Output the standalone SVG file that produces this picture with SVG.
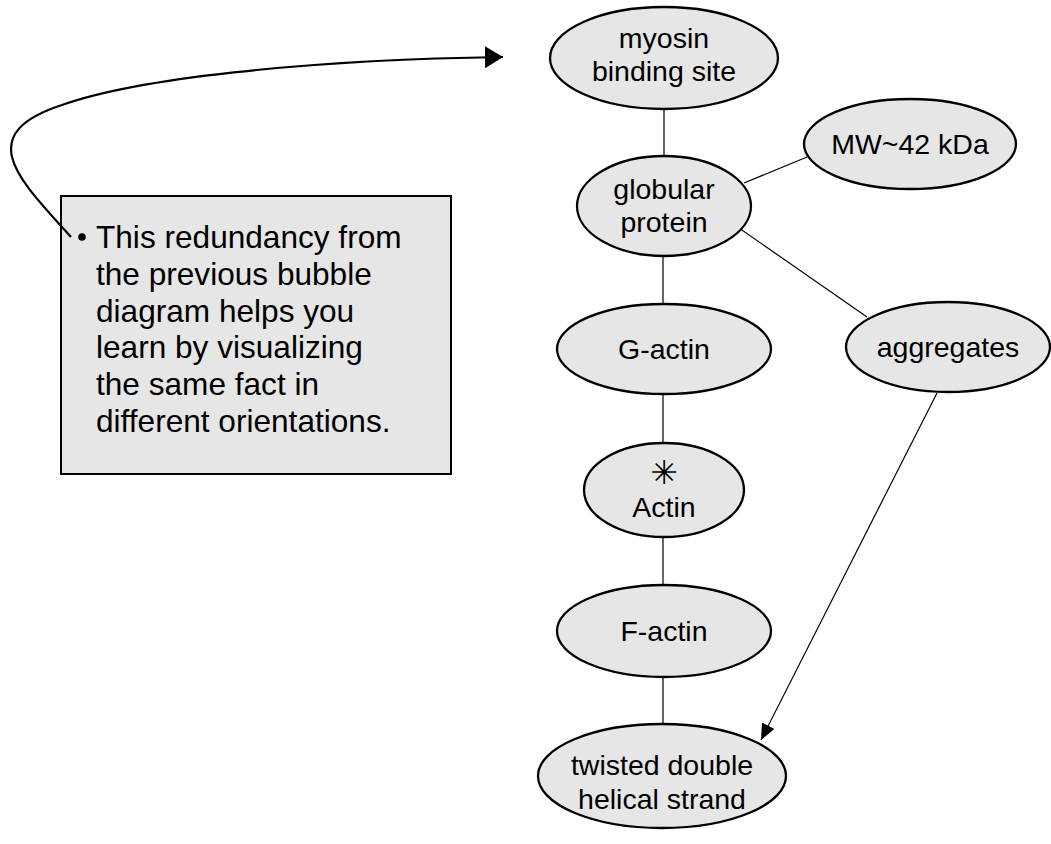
<svg xmlns="http://www.w3.org/2000/svg" width="1051" height="844" viewBox="0 0 1051 844">
<defs>
<style>
.node{fill:#e6e6e6;stroke:#000;stroke-width:2.3}
.t{font-family:"Liberation Sans",Arial,sans-serif;font-size:28.5px;fill:#000;text-anchor:middle}
.bt{font-family:"Liberation Sans",Arial,sans-serif;font-size:31.6px;fill:#000}
.ln{stroke:#000;stroke-width:1.2;fill:none}
</style>
<marker id="ah1" markerUnits="userSpaceOnUse" markerWidth="20" markerHeight="22" refX="18" refY="11" orient="auto" viewBox="0 0 20 22">
<path d="M0,0 L18,11 L0,22 Z" fill="#000"/>
</marker>
<marker id="ah2" markerUnits="userSpaceOnUse" markerWidth="16" markerHeight="14" refX="16" refY="7" orient="auto" viewBox="0 0 16 14">
<path d="M0,0 L16,7 L0,14 Z" fill="#000"/>
</marker>
</defs>
<rect width="1051" height="844" fill="#fff"/>
<g id="note">
<rect x="61" y="196" width="390" height="278" fill="#e6e6e6" stroke="#000" stroke-width="2"/>
<circle cx="82" cy="237" r="3.8" fill="#000"/>
<text class="bt" x="96" y="248">This redundancy from</text>
<text class="bt" x="96" y="285">the previous bubble</text>
<text class="bt" x="96" y="322">diagram helps you</text>
<text class="bt" x="96" y="358">learn by visualizing</text>
<text class="bt" x="96" y="395">the same fact in</text>
<text class="bt" x="96" y="432">different orientations.</text>
</g>
<g id="connectors">
<line class="ln" x1="664" y1="110" x2="664" y2="156"/>
<line class="ln" x1="744" y1="183" x2="807" y2="157"/>
<line class="ln" x1="739" y1="228" x2="867" y2="317"/>
<line class="ln" x1="663" y1="256" x2="663" y2="304"/>
<line class="ln" x1="663" y1="394" x2="663" y2="444"/>
<line class="ln" x1="663" y1="537" x2="663" y2="586"/>
<line class="ln" x1="663" y1="677" x2="663" y2="724"/>
<line class="ln" x1="937" y1="393" x2="761" y2="740" marker-end="url(#ah2)"/>
<path d="M71,237 C21,181 -30,135 62,105 C135,79 300,60 503,57" fill="none" stroke="#000" stroke-width="2.2" marker-end="url(#ah1)"/>
</g>
<g id="myosin">
<ellipse class="node" cx="664" cy="58" rx="114" ry="51"/>
<text class="t" x="664" y="48">myosin</text>
<text class="t" x="664" y="81">binding site</text>
</g>
<g id="globular">
<ellipse class="node" cx="664" cy="206" rx="87" ry="50"/>
<text class="t" x="664" y="199">globular</text>
<text class="t" x="664" y="232">protein</text>
</g>
<g id="mw">
<ellipse class="node" cx="910" cy="144" rx="106" ry="45"/>
<text class="t" x="910" y="154">MW~42 kDa</text>
</g>
<g id="gactin">
<ellipse class="node" cx="664" cy="349" rx="107" ry="45"/>
<text class="t" x="664" y="359">G-actin</text>
</g>
<g id="aggregates">
<ellipse class="node" cx="948" cy="347" rx="102" ry="45"/>
<text class="t" x="948" y="357">aggregates</text>
</g>
<g id="actin">
<ellipse class="node" cx="664" cy="490" rx="80" ry="47"/>
<text class="t" x="664" y="484" style="font-family:'DejaVu Sans',sans-serif;font-size:33px">✳</text>
<text class="t" x="664" y="517">Actin</text>
</g>
<g id="factin">
<ellipse class="node" cx="664" cy="631" rx="107" ry="46"/>
<text class="t" x="664" y="641">F-actin</text>
</g>
<g id="twisted">
<ellipse class="node" cx="662" cy="776" rx="124" ry="52"/>
<text class="t" x="662" y="775">twisted double</text>
<text class="t" x="662" y="809">helical strand</text>
</g>
</svg>
